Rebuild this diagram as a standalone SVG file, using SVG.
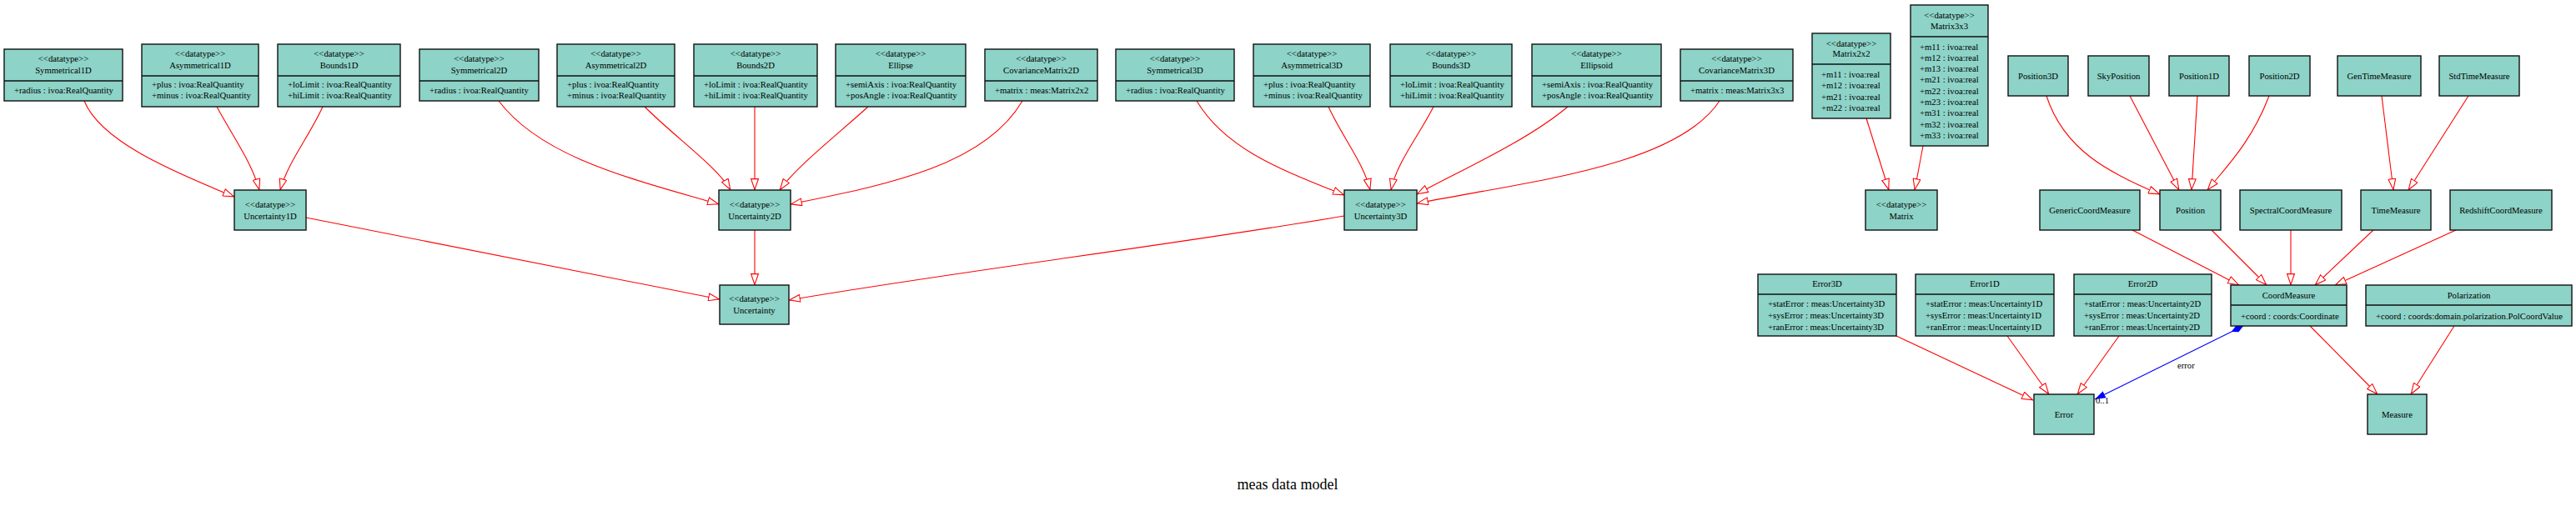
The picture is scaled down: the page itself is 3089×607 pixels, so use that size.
<svg xmlns="http://www.w3.org/2000/svg" width="3089" height="607" viewBox="0 0 3089 607">
<style>
rect.b{fill:#8dd3c7;stroke:#111;stroke-width:1.4}
line.d{stroke:#111;stroke-width:1.4}
text{font-family:"Liberation Serif","Times New Roman",serif;font-size:10.7px;fill:#000}
text.c{text-anchor:middle}
.e{fill:none;stroke:#ff0000;stroke-width:1.1}
.blue{fill:none;stroke:#0000ff;stroke-width:1.1}
</style>
<defs>
<marker id="gen" viewBox="0 0 14 10" refX="14" refY="5" markerWidth="14" markerHeight="10" markerUnits="userSpaceOnUse" orient="auto">
<path d="M0.6,0.6 L13.4,5 L0.6,9.4 z" fill="#fff" stroke="#ff0000" stroke-width="1.1"/>
</marker>
<marker id="bluearrow" viewBox="0 0 13 9" refX="13" refY="4.5" markerWidth="13" markerHeight="9" markerUnits="userSpaceOnUse" orient="auto">
<path d="M0,0 L13,4.5 L0,9 z" fill="#0000ff"/>
</marker>
<marker id="diamond" viewBox="0 0 16 8" refX="0" refY="4" markerWidth="16" markerHeight="8" markerUnits="userSpaceOnUse" orient="auto">
<path d="M0,4 L8,0 L16,4 L8,8 z" fill="#0000ff"/>
</marker>
</defs>
<rect width="3089" height="607" fill="#fff"/>

<g id="edges">
<path class="e" marker-end="url(#gen)" d="M101,121 C120,168 200,203 281,236"/>
<path class="e" marker-end="url(#gen)" d="M260,128 C280,165 302,195 311,228"/>
<path class="e" marker-end="url(#gen)" d="M387,128 C370,165 345,195 336,228"/>
<path class="e" marker-end="url(#gen)" d="M598,121 C650,190 760,215 862,245"/>
<path class="e" marker-end="url(#gen)" d="M773,128 C810,165 860,200 876,228"/>
<path class="e" marker-end="url(#gen)" d="M905,128 L905,228"/>
<path class="e" marker-end="url(#gen)" d="M1041,128 C1000,165 955,200 935,228"/>
<path class="e" marker-end="url(#gen)" d="M1226,121 C1180,200 1060,222 948,245"/>
<path class="e" marker-end="url(#gen)" d="M1435,121 C1470,180 1540,205 1612,234"/>
<path class="e" marker-end="url(#gen)" d="M1593,128 C1610,165 1635,195 1643,228"/>
<path class="e" marker-end="url(#gen)" d="M1719,128 C1700,165 1675,195 1668,228"/>
<path class="e" marker-end="url(#gen)" d="M1880,128 C1830,170 1750,205 1699,233"/>
<path class="e" marker-end="url(#gen)" d="M2062,121 C2010,200 1830,218 1699,244"/>
<path class="e" marker-end="url(#gen)" d="M367,261 L863,359"/>
<path class="e" marker-end="url(#gen)" d="M905,276 L905,342"/>
<path class="e" marker-end="url(#gen)" d="M1612,259 C1400,295 1150,325 946,360"/>
<path class="e" marker-end="url(#gen)" d="M2238,142 L2265,228"/>
<path class="e" marker-end="url(#gen)" d="M2306,175 L2296,228"/>
<path class="e" marker-end="url(#gen)" d="M2454,115 C2475,180 2530,208 2590,233"/>
<path class="e" marker-end="url(#gen)" d="M2554,115 L2613,228"/>
<path class="e" marker-end="url(#gen)" d="M2635,115 L2628,228"/>
<path class="e" marker-end="url(#gen)" d="M2721,115 C2700,170 2670,200 2647,228"/>
<path class="e" marker-end="url(#gen)" d="M2856,115 L2870,228"/>
<path class="e" marker-end="url(#gen)" d="M2960,115 L2888,228"/>
<path class="e" marker-end="url(#gen)" d="M2557,276 L2685,342"/>
<path class="e" marker-end="url(#gen)" d="M2652,276 L2718,342"/>
<path class="e" marker-end="url(#gen)" d="M2747,276 L2747,342"/>
<path class="e" marker-end="url(#gen)" d="M2846,276 L2776,342"/>
<path class="e" marker-end="url(#gen)" d="M2945,276 L2800,342"/>
<path class="e" marker-end="url(#gen)" d="M2274,403 L2438,480"/>
<path class="e" marker-end="url(#gen)" d="M2407,403 L2457,473"/>
<path class="e" marker-end="url(#gen)" d="M2541,403 L2491,473"/>
<path class="e" marker-end="url(#gen)" d="M2770,391 L2851,473"/>
<path class="e" marker-end="url(#gen)" d="M2943,391 L2891,473"/>
<path class="blue" marker-start="url(#diamond)" marker-end="url(#bluearrow)" d="M2690,391 L2512,479"/>
<text x="2611" y="442">error</text>
<text x="2513" y="484">0..1</text>
</g>

<g id="Symmetrical1D"><rect class="b" x="5" y="59" width="142" height="62"/><line class="d" x1="5" y1="97" x2="147" y2="97"/><text class="c" x="76" y="74">&lt;&lt;datatype&gt;&gt;</text><text class="c" x="76" y="87.5">Symmetrical1D</text><text x="17" y="111.5">+radius : ivoa:RealQuantity</text></g>
<g id="Asymmetrical1D"><rect class="b" x="170" y="53" width="140" height="75"/><line class="d" x1="170" y1="91" x2="310" y2="91"/><text class="c" x="240" y="68">&lt;&lt;datatype&gt;&gt;</text><text class="c" x="240" y="81.5">Asymmetrical1D</text><text x="182" y="105">+plus : ivoa:RealQuantity</text><text x="182" y="118">+minus : ivoa:RealQuantity</text></g>
<g id="Bounds1D"><rect class="b" x="333" y="53" width="147" height="75"/><line class="d" x1="333" y1="91" x2="480" y2="91"/><text class="c" x="406.5" y="68">&lt;&lt;datatype&gt;&gt;</text><text class="c" x="406.5" y="81.5">Bounds1D</text><text x="345" y="105">+loLimit : ivoa:RealQuantity</text><text x="345" y="118">+hiLimit : ivoa:RealQuantity</text></g>
<g id="Symmetrical2D"><rect class="b" x="503" y="59" width="143" height="62"/><line class="d" x1="503" y1="97" x2="646" y2="97"/><text class="c" x="574.5" y="74">&lt;&lt;datatype&gt;&gt;</text><text class="c" x="574.5" y="87.5">Symmetrical2D</text><text x="515" y="111.5">+radius : ivoa:RealQuantity</text></g>
<g id="Asymmetrical2D"><rect class="b" x="668" y="53" width="141" height="75"/><line class="d" x1="668" y1="91" x2="809" y2="91"/><text class="c" x="738.5" y="68">&lt;&lt;datatype&gt;&gt;</text><text class="c" x="738.5" y="81.5">Asymmetrical2D</text><text x="680" y="105">+plus : ivoa:RealQuantity</text><text x="680" y="118">+minus : ivoa:RealQuantity</text></g>
<g id="Bounds2D"><rect class="b" x="832" y="53" width="148" height="75"/><line class="d" x1="832" y1="91" x2="980" y2="91"/><text class="c" x="906" y="68">&lt;&lt;datatype&gt;&gt;</text><text class="c" x="906" y="81.5">Bounds2D</text><text x="844" y="105">+loLimit : ivoa:RealQuantity</text><text x="844" y="118">+hiLimit : ivoa:RealQuantity</text></g>
<g id="Ellipse"><rect class="b" x="1002" y="53" width="156" height="75"/><line class="d" x1="1002" y1="91" x2="1158" y2="91"/><text class="c" x="1080" y="68">&lt;&lt;datatype&gt;&gt;</text><text class="c" x="1080" y="81.5">Ellipse</text><text x="1014" y="105">+semiAxis : ivoa:RealQuantity</text><text x="1014" y="118">+posAngle : ivoa:RealQuantity</text></g>
<g id="CovarianceMatrix2D"><rect class="b" x="1181" y="59" width="135" height="62"/><line class="d" x1="1181" y1="97" x2="1316" y2="97"/><text class="c" x="1248.5" y="74">&lt;&lt;datatype&gt;&gt;</text><text class="c" x="1248.5" y="87.5">CovarianceMatrix2D</text><text x="1193" y="111.5">+matrix : meas:Matrix2x2</text></g>
<g id="Symmetrical3D"><rect class="b" x="1338" y="59" width="142" height="62"/><line class="d" x1="1338" y1="97" x2="1480" y2="97"/><text class="c" x="1409" y="74">&lt;&lt;datatype&gt;&gt;</text><text class="c" x="1409" y="87.5">Symmetrical3D</text><text x="1350" y="111.5">+radius : ivoa:RealQuantity</text></g>
<g id="Asymmetrical3D"><rect class="b" x="1503" y="53" width="140" height="75"/><line class="d" x1="1503" y1="91" x2="1643" y2="91"/><text class="c" x="1573" y="68">&lt;&lt;datatype&gt;&gt;</text><text class="c" x="1573" y="81.5">Asymmetrical3D</text><text x="1515" y="105">+plus : ivoa:RealQuantity</text><text x="1515" y="118">+minus : ivoa:RealQuantity</text></g>
<g id="Bounds3D"><rect class="b" x="1667" y="53" width="146" height="75"/><line class="d" x1="1667" y1="91" x2="1813" y2="91"/><text class="c" x="1740" y="68">&lt;&lt;datatype&gt;&gt;</text><text class="c" x="1740" y="81.5">Bounds3D</text><text x="1679" y="105">+loLimit : ivoa:RealQuantity</text><text x="1679" y="118">+hiLimit : ivoa:RealQuantity</text></g>
<g id="Ellipsoid"><rect class="b" x="1837" y="53" width="155" height="75"/><line class="d" x1="1837" y1="91" x2="1992" y2="91"/><text class="c" x="1914.5" y="68">&lt;&lt;datatype&gt;&gt;</text><text class="c" x="1914.5" y="81.5">Ellipsoid</text><text x="1849" y="105">+semiAxis : ivoa:RealQuantity</text><text x="1849" y="118">+posAngle : ivoa:RealQuantity</text></g>
<g id="CovarianceMatrix3D"><rect class="b" x="2015" y="59" width="135" height="62"/><line class="d" x1="2015" y1="97" x2="2150" y2="97"/><text class="c" x="2082.5" y="74">&lt;&lt;datatype&gt;&gt;</text><text class="c" x="2082.5" y="87.5">CovarianceMatrix3D</text><text x="2027" y="111.5">+matrix : meas:Matrix3x3</text></g>
<g id="Matrix2x2"><rect class="b" x="2173" y="40" width="94" height="102"/><line class="d" x1="2173" y1="77" x2="2267" y2="77"/><text class="c" x="2220" y="55.5">&lt;&lt;datatype&gt;&gt;</text><text class="c" x="2220" y="68">Matrix2x2</text><text x="2184" y="92.5">+m11 : ivoa:real</text><text x="2184" y="106">+m12 : ivoa:real</text><text x="2184" y="119.5">+m21 : ivoa:real</text><text x="2184" y="132.5">+m22 : ivoa:real</text></g>
<g id="Matrix3x3"><rect class="b" x="2291" y="6" width="93" height="169"/><line class="d" x1="2291" y1="44" x2="2384" y2="44"/><text class="c" x="2337.5" y="21.5">&lt;&lt;datatype&gt;&gt;</text><text class="c" x="2337.5" y="35">Matrix3x3</text><text x="2302" y="59.5">+m11 : ivoa:real</text><text x="2302" y="72.8">+m12 : ivoa:real</text><text x="2302" y="86.1">+m13 : ivoa:real</text><text x="2302" y="99.4">+m21 : ivoa:real</text><text x="2302" y="112.7">+m22 : ivoa:real</text><text x="2302" y="126">+m23 : ivoa:real</text><text x="2302" y="139.3">+m31 : ivoa:real</text><text x="2302" y="152.6">+m32 : ivoa:real</text><text x="2302" y="165.9">+m33 : ivoa:real</text></g>

<g id="Uncertainty1D"><rect class="b" x="281" y="228" width="86" height="48"/><text class="c" x="324" y="248.5">&lt;&lt;datatype&gt;&gt;</text><text class="c" x="324" y="262.5">Uncertainty1D</text></g>
<g id="Uncertainty2D"><rect class="b" x="862" y="228" width="86" height="48"/><text class="c" x="905" y="248.5">&lt;&lt;datatype&gt;&gt;</text><text class="c" x="905" y="262.5">Uncertainty2D</text></g>
<g id="Uncertainty3D"><rect class="b" x="1612" y="228" width="87" height="48"/><text class="c" x="1655.5" y="248.5">&lt;&lt;datatype&gt;&gt;</text><text class="c" x="1655.5" y="262.5">Uncertainty3D</text></g>
<g id="Matrix"><rect class="b" x="2237" y="228" width="86" height="48"/><text class="c" x="2280" y="248.5">&lt;&lt;datatype&gt;&gt;</text><text class="c" x="2280" y="262.5">Matrix</text></g>
<g id="Uncertainty"><rect class="b" x="863" y="342" width="83" height="47"/><text class="c" x="904.5" y="362">&lt;&lt;datatype&gt;&gt;</text><text class="c" x="904.5" y="376">Uncertainty</text></g>

<g id="Position3D"><rect class="b" x="2408" y="67" width="72" height="48"/><text class="c" x="2444" y="94.5">Position3D</text></g>
<g id="SkyPosition"><rect class="b" x="2504" y="67" width="73" height="48"/><text class="c" x="2540.5" y="94.5">SkyPosition</text></g>
<g id="Position1D"><rect class="b" x="2601" y="67" width="72" height="48"/><text class="c" x="2637" y="94.5">Position1D</text></g>
<g id="Position2D"><rect class="b" x="2697" y="67" width="73" height="48"/><text class="c" x="2733.5" y="94.5">Position2D</text></g>
<g id="GenTimeMeasure"><rect class="b" x="2803" y="67" width="100" height="48"/><text class="c" x="2853" y="94.5">GenTimeMeasure</text></g>
<g id="StdTimeMeasure"><rect class="b" x="2925" y="67" width="96" height="48"/><text class="c" x="2973" y="94.5">StdTimeMeasure</text></g>

<g id="GenericCoordMeasure"><rect class="b" x="2446" y="228" width="120" height="48"/><text class="c" x="2506" y="255.5">GenericCoordMeasure</text></g>
<g id="Position"><rect class="b" x="2590" y="228" width="73" height="48"/><text class="c" x="2626.5" y="255.5">Position</text></g>
<g id="SpectralCoordMeasure"><rect class="b" x="2686" y="228" width="122" height="48"/><text class="c" x="2747" y="255.5">SpectralCoordMeasure</text></g>
<g id="TimeMeasure"><rect class="b" x="2831" y="228" width="84" height="48"/><text class="c" x="2873" y="255.5">TimeMeasure</text></g>
<g id="RedshiftCoordMeasure"><rect class="b" x="2938" y="228" width="122" height="48"/><text class="c" x="2999" y="255.5">RedshiftCoordMeasure</text></g>

<g id="Error3D"><rect class="b" x="2108" y="329" width="166" height="74"/><line class="d" x1="2108" y1="353" x2="2274" y2="353"/><text class="c" x="2191" y="344">Error3D</text><text x="2120" y="367.5">+statError : meas:Uncertainty3D</text><text x="2120" y="381.5">+sysError : meas:Uncertainty3D</text><text x="2120" y="395.5">+ranError : meas:Uncertainty3D</text></g>
<g id="Error1D"><rect class="b" x="2297" y="329" width="166" height="74"/><line class="d" x1="2297" y1="353" x2="2463" y2="353"/><text class="c" x="2380" y="344">Error1D</text><text x="2309" y="367.5">+statError : meas:Uncertainty1D</text><text x="2309" y="381.5">+sysError : meas:Uncertainty1D</text><text x="2309" y="395.5">+ranError : meas:Uncertainty1D</text></g>
<g id="Error2D"><rect class="b" x="2487" y="329" width="165" height="74"/><line class="d" x1="2487" y1="353" x2="2652" y2="353"/><text class="c" x="2569.5" y="344">Error2D</text><text x="2499" y="367.5">+statError : meas:Uncertainty2D</text><text x="2499" y="381.5">+sysError : meas:Uncertainty2D</text><text x="2499" y="395.5">+ranError : meas:Uncertainty2D</text></g>
<g id="CoordMeasure"><rect class="b" x="2675" y="342" width="139" height="49"/><line class="d" x1="2675" y1="366" x2="2814" y2="366"/><text class="c" x="2744.5" y="358">CoordMeasure</text><text x="2687" y="382.5">+coord : coords:Coordinate</text></g>
<g id="Polarization"><rect class="b" x="2837" y="342" width="247" height="49"/><line class="d" x1="2837" y1="366" x2="3084" y2="366"/><text class="c" x="2960.5" y="358">Polarization</text><text x="2849" y="382.5">+coord : coords:domain.polarization.PolCoordValue</text></g>
<g id="Error"><rect class="b" x="2439" y="473" width="72" height="48"/><text class="c" x="2475" y="500.5">Error</text></g>
<g id="Measure"><rect class="b" x="2839" y="473" width="71" height="48"/><text class="c" x="2874.5" y="500.5">Measure</text></g>

<text class="c" x="1544" y="587" style="font-size:18px">meas data model</text>
</svg>
